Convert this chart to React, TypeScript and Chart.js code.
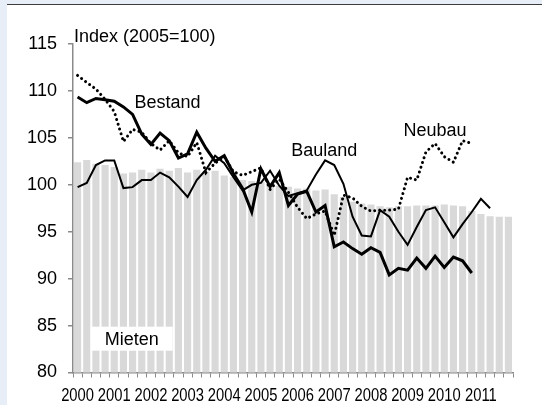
import React, { useEffect, useRef } from 'react';
import { Chart, registerables } from 'chart.js';

Chart.register(...registerables);

// ---- data (quarterly, 2000 Q1 .. 2011 Q4) ----
const years = ['2000', '2001', '2002', '2003', '2004', '2005', '2006', '2007', '2008', '2009', '2010', '2011'];
const quarterNames = ['Q1', 'Q2', 'Q3', 'Q4'];

const mieten = [
  102.4, 102.65, 102.25, 102.1, 101.9, 101.2, 101.3, 101.6, 101.3, 101.7, 101.5, 101.8,
  101.3, 101.6, 101.4, 101.5, 101.0, 100.8, 100.5, 100.4, 100.3, 100.1, 99.9, 99.8,
  99.6, 99.6, 99.4, 99.5, 99.0, 98.7, 98.2, 98.0, 97.9, 97.7, 97.6, 97.7,
  97.7, 97.8, 97.8, 97.8, 97.9, 97.8, 97.7, 97.2, 96.9, 96.65, 96.6, 96.6,
];

const bestand = [
  109.35, 108.75, 109.2, 109.05, 108.9, 108.3, 107.5, 105.4, 104.3, 105.5, 104.7, 102.85,
  103.3, 105.6, 103.9, 102.5, 103.1, 101.2, 99.6, 97.1, 101.7, 99.8, 101.3, 97.8,
  99.0, 99.3, 97.1, 97.8, 93.4, 93.9, 93.2, 92.6, 93.3, 92.8, 90.4, 91.1,
  90.9, 92.2, 91.1, 92.4, 91.2, 92.3, 91.9, 90.6,
];

const neubau = [
  111.65, 110.9, 110.2, 109.1, 107.8, 104.6, 105.9, 105.6, 104.4, 103.7, 104.7, 103.4,
  103.0, 104.5, 101.3, 102.3, 103.0, 101.4, 101.0, 101.4, 101.8, 99.5, 100.6, 99.2,
  97.6, 96.4, 96.9, 97.2, 94.6, 98.9, 98.6, 97.7, 97.2, 97.3, 97.3, 97.4,
  100.8, 100.5, 103.5, 104.4, 103.0, 102.4, 104.7, 104.4,
];

const bauland = [
  99.75, 100.2, 102.1, 102.6, 102.6, 99.65, 99.75, 100.5, 100.5, 101.3, 100.8, 99.8,
  98.7, 100.5, 101.6, 103.1, 102.3, 100.8, 99.4, 100.0, 100.2, 101.5, 99.9, 98.8,
  99.1, 99.4, 101.1, 102.6, 102.1, 100.1, 96.6, 94.6, 94.5, 97.3, 96.6, 95.0,
  93.6, 95.5, 97.3, 97.6, 96.0, 94.4, 95.8, 97.1, 98.5, 97.5,
];

const yTicks = [80, 85, 90, 95, 100, 105, 110, 115];

// text labels, positioned in data space (category index, index value)
const seriesLabels = ['Bestand', 'Bauland', 'Neubau'];
const seriesLabelX = [9.8, 26.9, 39.0];
const seriesLabelY = [108.9, 103.8, 105.9];
const axisTitle = 'Index (2005=100)';
const axisTitlePos = [-0.39, 115.9];
const mietenLabel = 'Mieten';
const mietenLabelPos = [5.9, 83.6];

const categories = years.flatMap((y) => quarterNames.map((q) => `${y} ${q}`));

const FONT = '"Liberation Sans", Arial, sans-serif';

const annotatePlugin = {
  id: 'annotate',
  afterDatasetsDraw(chart: any) {
    const { ctx, scales } = chart;
    const x = scales.x;
    const y = scales.y;
    ctx.save();
    ctx.font = `18px ${FONT}`;
    ctx.textBaseline = 'alphabetic';
    const capShift = 6.45;

    // Mieten label with white box
    const mx = x.getPixelForValue(mietenLabelPos[0]);
    const my = y.getPixelForValue(mietenLabelPos[1]);
    const mw = ctx.measureText(mietenLabel).width;
    ctx.fillStyle = '#ffffff';
    ctx.fillRect(mx - mw / 2 - 14, my - 12, mw + 28, 24);
    ctx.fillStyle = '#000000';
    ctx.textAlign = 'center';
    ctx.fillText(mietenLabel, mx, my + capShift);

    seriesLabels.forEach((t, i) => {
      ctx.fillText(t, x.getPixelForValue(seriesLabelX[i]), y.getPixelForValue(seriesLabelY[i]) + capShift);
    });

    ctx.textAlign = 'left';
    ctx.fillText(axisTitle, x.getPixelForValue(axisTitlePos[0]), y.getPixelForValue(axisTitlePos[1]) + capShift);

    // year labels of the x axis, in a narrow face (horizontally condensed)
    ctx.textAlign = 'center';
    const base = x.top + 28.5;
    years.forEach((yr, k) => {
      const px = x.getPixelForValue(k * 4);
      ctx.save();
      ctx.translate(px, base);
      ctx.scale(0.82, 1);
      ctx.fillText(yr, 0, 0);
      ctx.restore();
    });
    ctx.restore();
  },
};

export default function App() {
  const canvasRef = useRef<HTMLCanvasElement | null>(null);

  useEffect(() => {
    document.body.style.margin = '0';
    document.body.style.background = '#e8eef7';
    const canvas = canvasRef.current;
    if (!canvas) return;
    const chart = new Chart(canvas, {
      type: 'bar',
      data: {
        labels: categories,
        datasets: [
          {
            type: 'line',
            label: 'Bestand',
            data: bestand,
            borderColor: '#000000',
            borderWidth: 3,
            pointRadius: 0,
            tension: 0,
            fill: false,
            order: 1,
          },
          {
            type: 'line',
            label: 'Bauland',
            data: bauland,
            borderColor: '#000000',
            borderWidth: 2,
            pointRadius: 0,
            tension: 0,
            fill: false,
            order: 2,
          },
          {
            type: 'line',
            label: 'Neubau',
            data: neubau,
            borderColor: '#000000',
            borderWidth: 3,
            borderDash: [0.01, 5],
            borderCapStyle: 'round',
            pointRadius: 0,
            tension: 0,
            fill: false,
            order: 3,
          },
          {
            type: 'bar',
            label: 'Mieten',
            data: mieten,
            backgroundColor: '#d9d9d9',
            borderWidth: 0,
            barPercentage: 0.78,
            categoryPercentage: 1,
            order: 10,
          },
        ],
      },
      options: {
        animation: false,
        responsive: true,
        maintainAspectRatio: false,
        layout: { padding: { left: 0, right: 29, top: 39, bottom: 0 } },
        plugins: { legend: { display: false }, tooltip: { enabled: false } },
        scales: {
          x: {
            type: 'category',
            offset: true,
            grid: {
              offset: true,
              drawOnChartArea: false,
              drawTicks: true,
              tickLength: 5,
              color: '#8a8a8a',
              lineWidth: 1,
            },
            border: { display: true, color: '#8a8a8a', width: 1.5 },
            ticks: {
              autoSkip: false,
              maxRotation: 0,
              minRotation: 0,
              padding: 7,
              color: '#000000',
              font: { family: FONT, size: 18 },
              // year labels are drawn condensed by the annotate plugin
              callback: () => '',
            },
            afterFit: (scale: any) => {
              scale.height = 32.5;
            },
          },
          y: {
            min: 80,
            max: 115,
            afterBuildTicks: (scale: any) => {
              scale.ticks = yTicks.map((v) => ({ value: v }));
            },
            grid: {
              drawOnChartArea: false,
              drawTicks: true,
              tickLength: 5,
              color: '#8a8a8a',
              lineWidth: 1.5,
            },
            border: { display: true, color: '#8a8a8a', width: 1.5 },
            ticks: {
              padding: 11,
              color: '#000000',
              font: { family: FONT, size: 18 },
            },
            afterFit: (scale: any) => {
              scale.width = 66;
            },
          },
        },
      },
      plugins: [annotatePlugin],
    });
    return () => chart.destroy();
  }, []);

  return (
    <div
      style={{
        position: 'fixed',
        left: 7,
        top: 4,
        width: 535,
        height: 401,
        boxSizing: 'border-box',
        borderTop: '1px solid #3c3c3c',
        background: '#ffffff',
      }}
    >
      <div style={{ position: 'relative', width: 535, height: 400 }}>
        <canvas ref={canvasRef} />
      </div>
    </div>
  );
}
